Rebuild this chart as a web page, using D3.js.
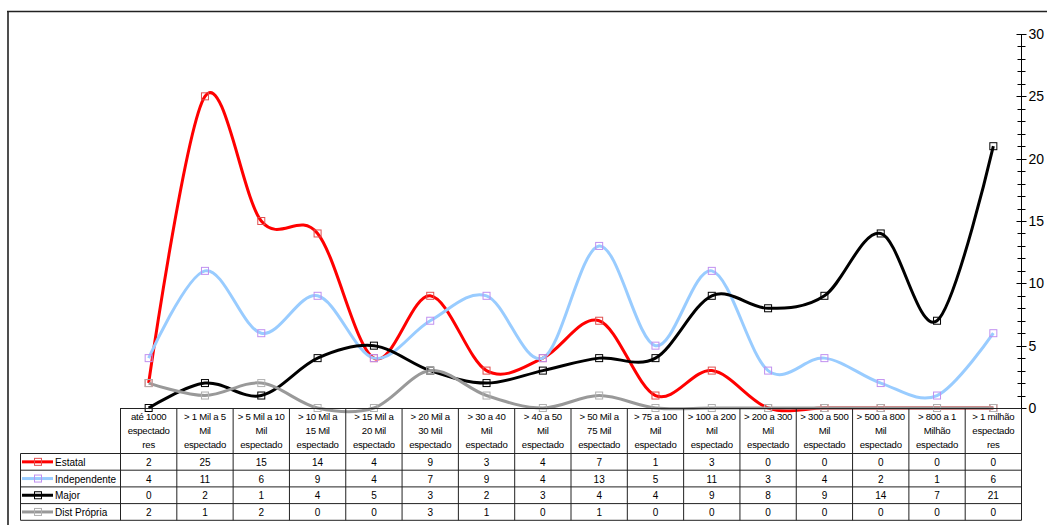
<!DOCTYPE html>
<html><head><meta charset="utf-8">
<script src="https://cdn.jsdelivr.net/npm/d3@7/dist/d3.min.js"></script>
<style>body{margin:0;background:#fff;}svg{display:block;font-family:"Liberation Sans",Arial,sans-serif;}</style>
</head><body>
<svg id="c" width="1047" height="525"></svg>
<script>
const categories = [
  ["até 1000","espectado","res"],
  ["> 1 Mil a 5","Mil","espectado"],
  ["> 5 Mil a 10","Mil","espectado"],
  ["> 10 Mil a","15 Mil","espectado"],
  ["> 15 Mil a","20 Mil","espectado"],
  ["> 20 Mil a","30 Mil","espectado"],
  ["> 30 a 40","Mil","espectado"],
  ["> 40 a 50","Mil","espectado"],
  ["> 50 Mil a","75 Mil","espectado"],
  ["> 75 a 100","Mil","espectado"],
  ["> 100 a 200","Mil","espectado"],
  ["> 200 a 300","Mil","espectado"],
  ["> 300 a 500","Mil","espectado"],
  ["> 500 a 800","Mil","espectado"],
  ["> 800 a 1","Milhão","espectado"],
  ["> 1 milhão","espectado","res"]
];
const seriesNames = ["Estatal","Independente","Major","Dist Própria"];
const estatal      = [2,25,15,14,4,9,3,4,7,1,3,0,0,0,0,0];
const independente = [4,11,6,9,4,7,9,4,13,5,11,3,4,2,1,6];
const major        = [0,2,1,4,5,3,2,3,4,4,9,8,9,14,7,21];
const distPropria  = [2,1,2,0,0,3,1,0,1,0,0,0,0,0,0,0];
const yTicks = [0,5,10,15,20,25,30];

(function(){
const seriesValues = [estatal, independente, major, distPropria];
const lineColors = ["#FF0000","#99CCFF","#000000","#999999"];
const markerColors = ["#E05050","#C090F0","#000000","#B0B0B0"];

const svg = d3.select("#c");
const pLeft = 120.5, pRight = 1021.5, pTop = 34, pBottom = 408;
const x = d3.scaleBand().domain(d3.range(categories.length)).range([pLeft, pRight]).padding(0);
const y = d3.scaleLinear().domain([0,30]).range([pBottom, pTop]);
const cx = i => x(i) + x.bandwidth()/2;

// outer frame
svg.append("line").attr("x1",7).attr("x2",1047).attr("y1",11.5).attr("y2",11.5).attr("stroke","#222").attr("stroke-width",1.6);
svg.append("line").attr("x1",8).attr("x2",8).attr("y1",11).attr("y2",525).attr("stroke","#222").attr("stroke-width",1.6);

// right axis
const axisG = svg.append("g").attr("transform",`translate(${pRight},0)`);
axisG.append("line").attr("y1",pTop).attr("y2",pBottom).attr("stroke","#000");
const minor = d3.range(0,31);
axisG.selectAll(".mn").data(minor).join("line")
  .attr("x1",d=>d%5===0?-5:-4).attr("x2",d=>d%5===0?5:4)
  .attr("y1",d=>Math.round(y(d))+0.5).attr("y2",d=>Math.round(y(d))+0.5).attr("stroke","#000");
axisG.selectAll(".tl").data(yTicks).join("text")
  .attr("x",7).attr("y",d=>y(d)+5).attr("font-size",14).attr("fill","#000").text(d=>d);

// lines
const line = d3.line().x((d,i)=>cx(i)).y(d=>y(d)).curve(d3.curveCardinal.tension(0));
seriesValues.forEach((vals,si)=>{
  svg.append("path").datum(vals).attr("d",line).attr("fill","none")
    .attr("stroke",lineColors[si]).attr("stroke-width",3).attr("stroke-linejoin","round");
});
seriesValues.forEach((vals,si)=>{
  svg.append("g").selectAll("rect").data(vals).join("rect")
    .attr("x",(d,i)=>cx(i)-3.5).attr("y",d=>y(d)-3.5).attr("width",7).attr("height",7)
    .attr("fill","none").attr("stroke",markerColors[si]).attr("stroke-width",1);
});

// data table
const tblTop = 408, hdrBottom = 453.5, rowH = 16.7, legLeft = 20.5;
const nRows = seriesNames.length;
const tblBottom = hdrBottom + rowH*nRows;
const T = svg.append("g");
const bc = "#222";
for (let i=0;i<=categories.length;i++){
  const xx = i<categories.length ? x(i) : pRight;
  T.append("line").attr("x1",xx).attr("x2",xx).attr("y1",tblTop).attr("y2",tblBottom).attr("stroke",bc);
}
T.append("line").attr("x1",pLeft).attr("x2",pRight).attr("y1",tblTop+0.5).attr("y2",tblTop+0.5).attr("stroke",bc);
T.append("line").attr("x1",legLeft).attr("x2",legLeft).attr("y1",hdrBottom).attr("y2",tblBottom).attr("stroke",bc);
for (let r=0;r<=nRows;r++){
  const yy = hdrBottom + rowH*r;
  T.append("line").attr("x1",legLeft).attr("x2",pRight).attr("y1",yy).attr("y2",yy).attr("stroke",bc);
}
categories.forEach((lines,i)=>{
  lines.forEach((t,k)=>{
    T.append("text").attr("x",cx(i)).attr("y",420+k*14).attr("text-anchor","middle")
      .attr("font-size",9.6).attr("letter-spacing","-0.25").attr("fill","#000").text(t);
  });
});
seriesValues.forEach((vals,si)=>{
  const ry = hdrBottom + rowH*si;
  const mid = ry + rowH/2;
  T.append("line").attr("x1",22).attr("x2",53).attr("y1",mid).attr("y2",mid)
    .attr("stroke",lineColors[si]).attr("stroke-width",3);
  T.append("rect").attr("x",34.5).attr("y",mid-3.5).attr("width",7).attr("height",7)
    .attr("fill","none").attr("stroke",markerColors[si]);
  T.append("text").attr("x",55).attr("y",mid+4).attr("font-size",10).attr("fill","#000").text(seriesNames[si]);
  vals.forEach((v,i)=>{
    T.append("text").attr("x",cx(i)).attr("y",mid+4).attr("text-anchor","middle")
      .attr("font-size",10).attr("fill","#000").text(v);
  });
});
})();
</script>
</body></html>
